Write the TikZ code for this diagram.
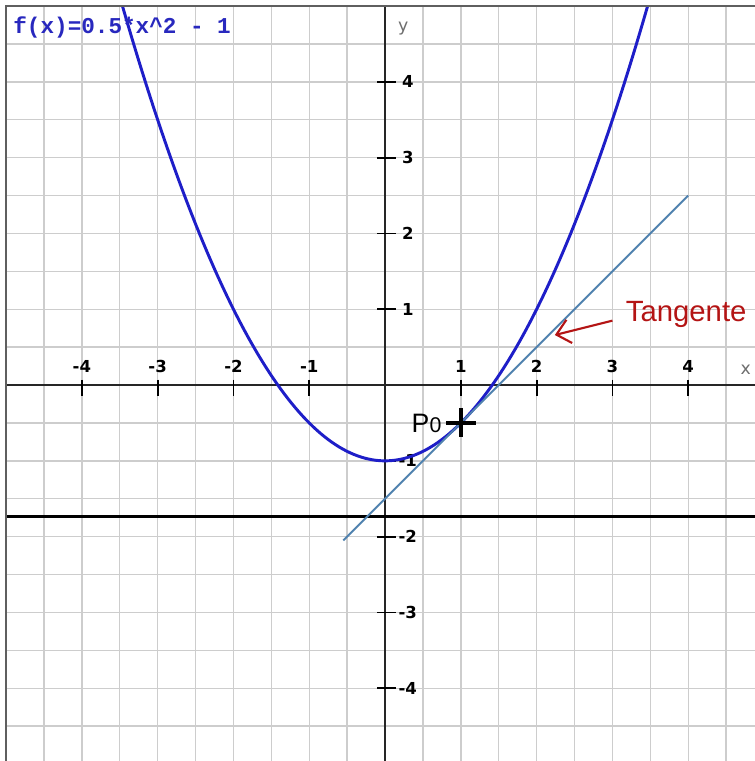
\documentclass[tikz,border=0pt]{standalone}
\usepackage{fontspec}
\setmainfont{Liberation Sans}
\newfontfamily\tickfont{DejaVu Sans}
\newfontfamily\titlefont{Liberation Mono}
\usetikzlibrary{arrows.meta}
\definecolor{gridgray}{RGB}{205,205,205}
\definecolor{bordergray}{RGB}{95,95,95}
\definecolor{curveblue}{RGB}{30,30,200}
\definecolor{tanblue}{RGB}{80,130,175}
\definecolor{tanred}{RGB}{180,20,20}
\definecolor{titleblue}{RGB}{40,40,190}
\definecolor{labgray}{RGB}{110,110,110}
\tikzset{
  gridline/.style={gridgray, line width=0.55pt},
  axisline/.style={black!85, line width=0.55pt},
  borderline/.style={bordergray, line width=0.9pt},
  tickmark/.style={black, line width=0.65pt},
  ticklabel/.style={font=\tickfont\bfseries\fontsize{6.2}{7}\selectfont, inner sep=0pt},
  axislabel/.style={font=\tickfont\fontsize{6.5}{7}\selectfont, text=labgray, inner sep=0pt},
  curve/.style={curveblue, line width=1.1pt},
  tangentline/.style={tanblue, line width=0.75pt},
  crossmark/.style={black, line width=1.4pt},
}
\begin{document}
\begin{tikzpicture}[x=1cm,y=1cm]
\useasboundingbox (-5.08,-4.96) rectangle (4.88,5.08);
\fill[white] (-5.08,-4.96) rectangle (4.88,5.08);
\begin{scope}
  \clip (-5,-4.96) rectangle (4.88,5);
  \draw[gridline] (-5,-5) grid[step=0.5] (5,5);
  % axes
  \draw[axisline] (-5,0) -- (4.88,0);
  \draw[axisline] (0,-4.96) -- (0,5);
  % thick horizontal line
  \draw[black, line width=1.1pt] (-5,-1.73) -- (4.88,-1.73);
  % ticks
  \foreach \i in {-4,-3,-2,-1,1,2,3,4} {
    \draw[tickmark] (\i,0.07) -- (\i,-0.14);
    \node[ticklabel] (xl\i) at (\i,0.24) {\i};
    \draw[tickmark] (-0.1,\i) -- (0.14,\i);
    \node[ticklabel] (yl\i) at (0.3,\i) {\i};
  }
  \node[axislabel] (xlab) at (4.76,0.2) {x};
  \node[axislabel] (ylab) at (0.24,4.7) {y};
  % parabola
  \draw[curve] plot[domain=-3.6:3.6, samples=150] (\x,{0.5*\x*\x-1});
  % tangent
  \coordinate (t1) at (-0.55,-2.05);
  \coordinate (t2) at (4,2.5);
  \draw[tangentline] (t1) -- (t2);
\end{scope}
% borders
\draw[borderline] (-5,-4.96) -- (-5,5) -- (4.88,5);
% title
\node[font=\titlefont\bfseries\fontsize{8.5}{9}\selectfont, text=titleblue, anchor=west, inner sep=0pt] (title) at (-4.91,4.72) {f(x)=0.5*x\textasciicircum2 - 1};
% point P0
\coordinate (p0) at (1,-0.5);
\draw[crossmark] ([xshift=-0.19cm]p0) -- ([xshift=0.2cm]p0);
\draw[crossmark] ([yshift=0.2cm]p0) -- ([yshift=-0.19cm]p0);
\node[anchor=east, font=\fontsize{10}{11}\selectfont, inner sep=0pt] (plab) at (0.75,-0.5) {P{\fontsize{8}{9}\selectfont 0}};
% Tangente label and arrow
\node[anchor=west, font=\fontsize{11}{12}\selectfont, text=tanred, inner sep=0pt] (tlabel) at (3.17,0.93) {Tangente};
\coordinate (tip) at (2.24,0.66);
\draw[tanred, line width=0.8pt, -{Straight Barb[length=5pt,width=9pt]}] ([xshift=-0.17cm,yshift=-0.08cm]tlabel.west) -- (tip);
\end{tikzpicture}
\end{document}
